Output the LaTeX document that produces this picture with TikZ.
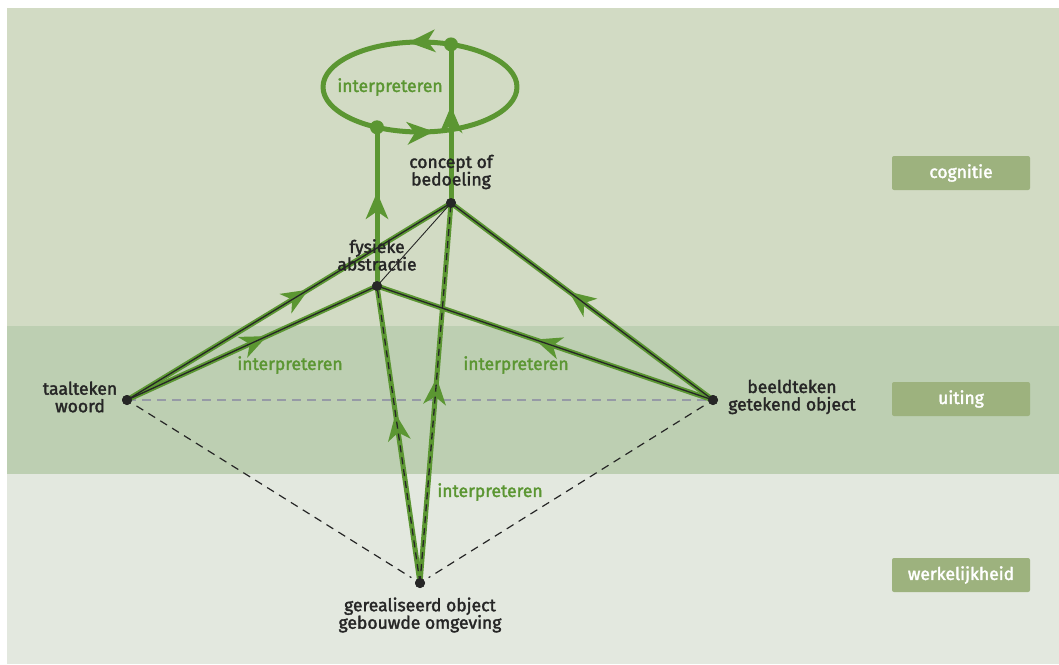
\documentclass[tikz,border=0pt]{standalone}
\usepackage{fontspec}
\setmainfont{Fira Sans}[FakeBold=2]
\usetikzlibrary{decorations.markings}

\definecolor{bandtop}{RGB}{210,219,196}
\definecolor{bandmid}{RGB}{189,207,178}
\definecolor{bandlow}{RGB}{227,232,223}
\definecolor{leaf}{RGB}{91,150,50}
\definecolor{tagfill}{RGB}{157,178,126}
\definecolor{ink}{RGB}{38,38,38}
\definecolor{haze}{RGB}{150,154,166}

\tikzset{
  dot/.style={circle, fill=ink, inner sep=0pt, minimum size=10pt},
  ringdot/.style={circle, fill=leaf, inner sep=0pt, minimum size=14pt},
  lbl/.style={font=\fontsize{17.5}{17.5}\selectfont, text=ink, align=center, inner sep=0pt},
  greenlbl/.style={font=\fontsize{17.5}{17.5}\selectfont, text=leaf, inner sep=0pt},
  tag/.style={fill=tagfill, rounded corners=2pt, minimum width=138pt, minimum height=34pt,
              inner sep=0pt, text=white, font=\fontsize{17.5}{17.5}\selectfont},
  trunk/.style={draw=leaf, line width=5pt},
  core/.style={draw=ink, line width=1.3pt},
  coredash/.style={draw=ink, line width=1.3pt, dash pattern=on 7pt off 5pt},
  thin/.style={draw=ink, line width=0.9pt},
  guide/.style={draw=ink, line width=1.2pt, dash pattern=on 8pt off 6pt},
  level/.style={draw=haze, line width=1.2pt, dash pattern=on 9pt off 6pt},
  % a filled arrowhead placed part-way along a path, tip at the mark
  mid/.style={postaction={decorate, decoration={markings,
      mark=at position #1 with {\fill[leaf] (0pt,0pt) -- (-27pt,11.5pt) -- (-19pt,0pt) -- (-27pt,-11.5pt) -- cycle;}}}}
}

\begin{document}
\begin{tikzpicture}[x=1pt, y=1pt]
  \useasboundingbox (0,0) rectangle (1059,-664);

  % horizontal bands
  \fill[bandtop] (7,-8) rectangle (1059,-326);
  \fill[bandmid] (7,-326) rectangle (1059,-474);
  \fill[bandlow] (7,-474) rectangle (1059,-664);

  % level tags
  \node[tag] (tagcog) at (961,-173) {cognitie};
  \node[tag] (taguit) at (961,-399) {uiting};
  \node[tag] (tagwerk) at (961,-575) {werkelijkheid};

  % points of the diagram
  \node[dot] (T) at (127,-400) {};
  \node[dot] (B) at (713,-400) {};
  \node[dot] (G) at (420,-583) {};
  \node[dot] (F) at (377,-286) {};
  \node[dot] (C) at (451,-203) {};
  \coordinate (ringtop) at (451,-44.4);
  \coordinate (ringbot) at (377,-127.3);

  % dashed base lines
  \draw[level] (T.center) -- (B.center);
  \draw[guide, shorten <=6pt, shorten >=5pt] (T) -- (G);
  \draw[guide, shorten <=6pt, shorten >=5pt] (B) -- (G);

  % green interpretation paths
  \draw[trunk, mid=0.56] (T.center) -- (C.center);
  \draw[trunk, mid=0.56] (T.center) -- (F.center);
  \draw[trunk, mid=0.53] (B.center) -- (F.center);
  \draw[trunk, mid=0.55] (B.center) -- (C.center);
  \draw[trunk, mid=0.57] (G.center) -- (F.center);
  \draw[trunk, mid=0.54] (G.center) -- (C.center);
  \draw[trunk, mid=0.59] (F.center) -- (ringbot);
  \draw[trunk, mid=0.61] (C.center) -- (ringtop);

  % interpretation loop
  \draw[trunk, mid=0.55] (517,-87) arc[start angle=0, end angle=180, x radius=97, y radius=45];
  \draw[trunk, mid=0.56] (323,-87) arc[start angle=180, end angle=360, x radius=97, y radius=45];
  \node[ringdot] (rt) at (ringtop) {};
  \node[ringdot] (rb) at (ringbot) {};

  % black cores
  \draw[core] (T.center) -- (C.center);
  \draw[core] (T.center) -- (F.center);
  \draw[core] (B.center) -- (F.center);
  \draw[core] (B.center) -- (C.center);
  \draw[coredash] (G.center) -- (F.center);
  \draw[coredash] (G.center) -- (C.center);
  \draw[thin] (F.center) -- (C.center);

  % redraw the points on top
  \foreach \p in {T,B,G,F,C} \fill[ink] (\p.center) circle (5pt);

  % labels
  \node[lbl] (lc) at (451,-172) {concept of\\bedoeling};
  \node[lbl] (lf) at (377,-255) {fysieke\\abstractie};
  \node[lbl] (lt) at (80,-397) {taalteken\\woord};
  \node[lbl] (lb) at (792,-397) {beeldteken\\getekend object};
  \node[lbl] (lg) at (420,-615) {gerealiseerd object\\gebouwde omgeving};

  \node[greenlbl] (i1) at (390,-87) {interpreteren};
  \node[greenlbl] (i2) at (290,-365) {interpreteren};
  \node[greenlbl] (i3) at (516,-365) {interpreteren};
  \node[greenlbl] (i4) at (490,-492) {interpreteren};
\end{tikzpicture}
\end{document}
